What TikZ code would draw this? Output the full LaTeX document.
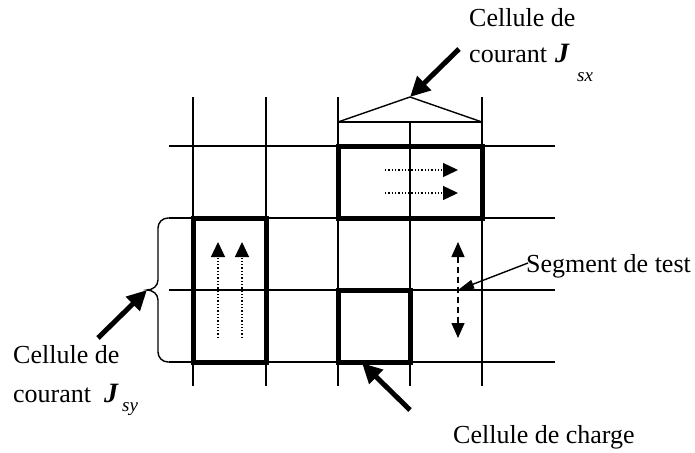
\documentclass[tikz,border=0pt]{standalone}
\usepackage{fontspec}
\setmainfont{Liberation Serif}
\usetikzlibrary{arrows.meta}
\tikzset{
  thin line/.style={line width=1.4pt},
  thick box/.style={line width=5pt},
  bigarrow/.style={line width=5pt,-{Triangle[length=20pt,width=19pt]}},
  dotarrow/.style={line width=1.3pt,dotted,-{Triangle[length=15pt,width=14pt]}},
  dasharrow/.style={line width=1.4pt,dash pattern=on 6pt off 4pt,{Triangle[length=15pt,width=13pt]}-{Triangle[length=15pt,width=13pt]}},
  pointer/.style={line width=1.4pt,-{Triangle[length=16pt,width=9pt]}},
  lbl/.style={font=\fontsize{26}{26}\selectfont,inner sep=0pt,anchor=base west},
  jlbl/.style={font=\fontsize{28}{28}\selectfont\bfseries\itshape,inner sep=0pt,anchor=base west},
  sublbl/.style={font=\fontsize{19}{19}\selectfont\itshape,inner sep=0pt,anchor=base west}
}
\begin{document}
\begin{tikzpicture}[x=1pt,y=-1pt]
\useasboundingbox (0,0) rectangle (695,452);
% grid
\foreach \yy in {146,218,290,362} \draw[thin line] (169,\yy) -- (555,\yy);
\foreach \xx in {193,266,338,482} \draw[thin line] (\xx,97) -- (\xx,386);
\draw[thin line] (410,122) -- (410,386);
% triangle
\coordinate (apex) at (410,97);
\draw[thin line] (338,122) -- (482,122);
\draw[thin line,line join=miter] (338,122) -- (apex) -- (482,122);
% thick boxes
\draw[thick box] (338,146) rectangle (482,218);
\draw[thick box] (193,218) rectangle (266,362);
\draw[thick box] (338,290) rectangle (410,362);
% dotted arrows
\coordinate (h1s) at (385,170); \coordinate (h1e) at (458,170);
\coordinate (h2s) at (385,193); \coordinate (h2e) at (458,193);
\draw[dotarrow] (h1s) -- (h1e);
\draw[dotarrow] (h2s) -- (h2e);
\coordinate (v1s) at (218,338); \coordinate (v1e) at (218,242);
\coordinate (v2s) at (242,338); \coordinate (v2e) at (242,242);
\draw[dotarrow] (v1s) -- (v1e);
\draw[dotarrow] (v2s) -- (v2e);
% dashed double arrow
\coordinate (d1) at (458,242); \coordinate (d2) at (458,338);
\draw[dasharrow] (d1) -- (d2);
% brace
\coordinate (btip) at (147,290);
\draw[thin line] (193,218) -- (168,218) to[out=180,in=90] (158,228) -- (158,280)
  to[out=-90,in=0] (btip) to[out=0,in=90] (158,300) -- (158,352)
  to[out=-90,in=180] (168,362) -- (193,362);
% labels
\node[lbl] (t1) at (469,27) {Cellule de};
\node[lbl] (t2) at (469,63) {courant};
\node[jlbl] (tj) at (555,63) {J};
\node[sublbl] (ts) at (577,81) {sx};
\node[lbl] (l1) at (13,363) {Cellule de};
\node[lbl] (l2) at (13,402) {courant};
\node[jlbl] (lj) at (104,402) {J};
\node[sublbl] (ls) at (122,411) {sy};
\node[lbl] (seg) at (526,272) {Segment de test};
\node[lbl] (ch) at (453,443) {Cellule de charge};
% pointer arrows
\coordinate (a1s) at (459,49);
\draw[bigarrow] (a1s) -- (apex);
\coordinate (a2s) at (98,338);
\draw[bigarrow] (a2s) -- (btip);
\coordinate (a3s) at (410,410); \coordinate (a3e) at (362,363);
\draw[bigarrow] (a3s) -- (a3e);
\coordinate (p1s) at (528,263); \coordinate (p1e) at (458,290);
\draw[pointer] (p1s) -- (p1e);
\end{tikzpicture}
\end{document}
